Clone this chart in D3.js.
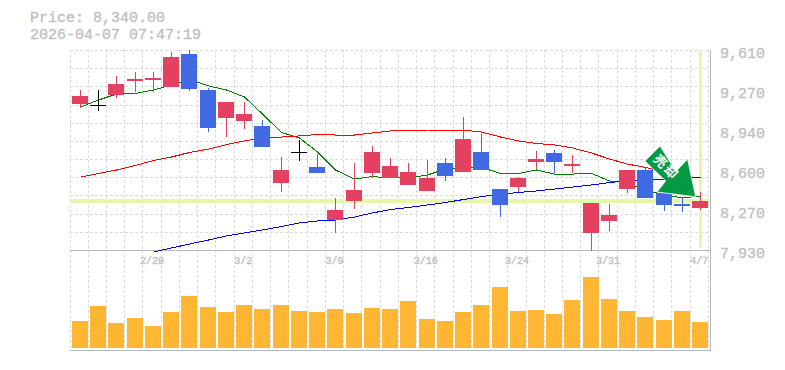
<!DOCTYPE html>
<html lang="ja">
<head>
<meta charset="utf-8">
<title>chart</title>
<script src="https://cdn.jsdelivr.net/npm/d3@7/dist/d3.min.js"></script>
<style>
  html, body { margin: 0; padding: 0; background: #fff; overflow: hidden; }
  svg { display: block; }
  text { font-family: "Liberation Mono", monospace; fill: #c0c0c0; stroke: #c0c0c0; stroke-width: 0.35px; }
</style>
</head>
<body>
<svg width="785" height="370"></svg>
<script>
const titleLines = ["Price: 8,340.00", "2026-04-07 07:47:19"];
const lastPrice = 8340;

const opens  = [9156,9146,9232,9350,9358,9299,9576,9274,9039,9014,8972,8493,8751,8627,8182,8342,8577,8535,8476,8426,8661,8585,8753,8442,8459,8669,8745,8636,8073,8174,8442,8602,8409,8316,8283];
const highs  = [9274,9274,9392,9425,9425,9593,9610,9291,9173,9173,9022,8711,8854,8736,8367,8661,8804,8703,8661,8686,8703,9047,8904,8442,8543,8762,8770,8728,8325,8316,8602,8627,8434,8375,8417];
const lows   = [9123,9100,9207,9257,9260,9299,9266,8921,8879,8946,8795,8417,8680,8577,8073,8274,8535,8535,8476,8426,8510,8585,8602,8207,8417,8602,8577,8577,7922,8090,8409,8367,8258,8249,8266];
const closes = [9224,9146,9324,9366,9375,9551,9282,8955,9173,9072,8795,8602,8751,8577,8266,8434,8753,8636,8585,8535,8552,8862,8602,8308,8535,8694,8669,8652,8325,8224,8602,8367,8308,8300,8340];

const maShort = [9131,9190,9240,9245,9274,9316,9362,9308,9274,9215,9072,8917,8871,8753,8602,8526,8547,8535,8535,8560,8610,8627,8623,8573,8573,8602,8568,8568,8573,8510,8493,8434,8392,8367,8384];
const maMid   = [8543,8573,8602,8640,8682,8711,8749,8778,8816,8846,8871,8879,8888,8900,8896,8896,8913,8930,8934,8938,8938,8938,8921,8879,8846,8825,8812,8787,8745,8694,8652,8623,8585,8552,8535];
const maLong  = [null,null,null,null,7913,7947,7980,8014,8048,8073,8098,8127,8157,8174,8182,8207,8241,8270,8287,8308,8329,8354,8379,8400,8413,8426,8442,8459,8476,8497,8510,8518,8522,8531,8539];

const volumes = [27,42,25,30,22,36,52,41,36,43,39,43,37,36,39,35,40,39,47,29,27,36,43,61,37,38,34,48,71,49,37,31,28,37,26];

const priceTicks = [9610,9274,8938,8602,8266,7930];
const priceLabels = ["9,610","9,270","8,940","8,600","8,270","7,930"];
const dateTicks = [4,9,14,19,24,29,34];
const dateLabels = ["2/20","3/2","3/9","3/16","3/24","3/31","4/7"];
const signalText = "売却";

const svg = d3.select("svg");
const idx = d3.range(opens.length);

const x = d3.scaleBand().domain(idx).range([71, 71 + 18.24 * 35]);
const bodyLeft = i => Math.round(x(i) + 1);
const mid = i => bodyLeft(i) + 8.5;
const yPrice = d3.scaleLinear().domain([7930, 9610]).range([250, 50]);
const yVol = d3.scaleLinear().domain([0, d3.max(volumes)]).range([348, 277]);
const gridCols = d3.scaleLinear().domain([0, 35]).range([70, 70 + 18.24 * 35]);
const gridRows = d3.scaleLinear().domain([0, 11]).range([50, 250]);

// grid
const grid = svg.append("g").attr("stroke", "#dcdcdc").attr("stroke-dasharray", "3,2").attr("shape-rendering", "crispEdges");
grid.selectAll(".v").data(d3.range(36)).enter().append("line")
    .attr("x1", d => Math.floor(gridCols(d)) + 0.5).attr("x2", d => Math.floor(gridCols(d)) + 0.5)
    .attr("y1", 50).attr("y2", 350);
grid.selectAll(".h").data(d3.range(12)).enter().append("line")
    .attr("x1", 70).attr("x2", 710)
    .attr("y1", d => Math.round(gridRows(d)) + 0.5).attr("y2", d => Math.round(gridRows(d)) + 0.5);

// current price / current day highlight
svg.append("rect").attr("x", 70).attr("width", 640).attr("y", Math.round(yPrice(lastPrice)) - 2).attr("height", 4).attr("fill", "#e6f6ab");
svg.append("rect").attr("x", mid(34) - 1.5).attr("width", 3).attr("y", 50).attr("height", 198).attr("fill", "#e6f6ab");

// frame
const frame = svg.append("g").attr("stroke", "#bbb").attr("shape-rendering", "crispEdges");
frame.append("line").attr("x1", 70).attr("x2", 711).attr("y1", 250.5).attr("y2", 250.5);
frame.append("line").attr("x1", 70).attr("x2", 711).attr("y1", 350.5).attr("y2", 350.5);
frame.append("line").attr("x1", 710.5).attr("x2", 710.5).attr("y1", 50).attr("y2", 351);

// moving averages
const maLine = d3.line().defined(d => d !== null).x((d, i) => mid(i)).y(d => yPrice(d));
[[maShort, "#008000"], [maMid, "#ff0000"], [maLong, "#0000ff"]].forEach(function (m) {
    svg.append("path").attr("d", maLine(m[0])).attr("fill", "none").attr("stroke", m[1]).attr("stroke-width", 1).attr("shape-rendering", "crispEdges");
});

// candles
const candleColor = i => closes[i] > opens[i] ? "#e3415f" : closes[i] < opens[i] ? "#4169e1" : "#000";
const candles = svg.append("g").attr("shape-rendering", "crispEdges");
candles.selectAll("line.wick").data(idx).enter().append("line").attr("class", "wick")
    .attr("x1", mid).attr("x2", mid)
    .attr("y1", i => yPrice(highs[i])).attr("y2", i => yPrice(lows[i]))
    .attr("stroke", candleColor);
candles.selectAll("rect").data(idx.filter(i => closes[i] !== opens[i])).enter().append("rect")
    .attr("x", bodyLeft).attr("width", 16)
    .attr("y", i => Math.round(yPrice(Math.max(opens[i], closes[i]))))
    .attr("height", i => Math.round(yPrice(Math.min(opens[i], closes[i]))) - Math.round(yPrice(Math.max(opens[i], closes[i]))))
    .attr("fill", candleColor);
candles.selectAll("line.doji").data(idx.filter(i => closes[i] === opens[i])).enter().append("line").attr("class", "doji")
    .attr("x1", bodyLeft).attr("x2", i => bodyLeft(i) + 16)
    .attr("y1", i => Math.round(yPrice(closes[i])) + 0.5).attr("y2", i => Math.round(yPrice(closes[i])) + 0.5)
    .attr("stroke", "#000");

// volume
svg.append("g").selectAll("rect").data(idx).enter().append("rect")
    .attr("x", bodyLeft).attr("width", 16)
    .attr("y", i => Math.round(yVol(volumes[i])))
    .attr("height", i => 348 - Math.round(yVol(volumes[i])))
    .attr("fill", "#ffb733");

// axes
const yAxis = d3.axisRight(yPrice).tickValues(priceTicks).tickSize(0).tickPadding(0)
    .tickFormat((d, i) => priceLabels[i]);
const gy = svg.append("g").attr("transform", "translate(720,0)").call(yAxis);
gy.select(".domain").remove();
gy.selectAll("text").attr("font-size", 15).attr("font-family", "Liberation Mono").attr("dy", "0.5em").attr("fill", "#c0c0c0");

const xAxis = d3.axisBottom(x).tickValues(dateTicks).tickSize(0).tickPadding(0)
    .tickFormat((d, i) => dateLabels[i]);
const gx = svg.append("g").attr("transform", "translate(-1,257)").call(xAxis);
gx.select(".domain").remove();
gx.selectAll("text").attr("font-size", 10).attr("font-family", "Liberation Mono").attr("fill", "#c0c0c0");

// title
svg.selectAll("text.title").data(titleLines).enter().append("text").attr("class", "title")
    .attr("x", 30).attr("y", (d, i) => 22 + i * 17)
    .attr("font-size", 15)
    .text(d => d);

// signal arrow, anchored on the last candles
const ax = d3.scaleLinear().domain([0, 1]).range([mid(31), mid(34)]);
const ay = d3.scaleLinear().domain([0, 1]).range([yPrice(9000), yPrice(8400)]);
const arrowShape = [[0.264,0.328],[-0.01,0.538],[0.367,0.818],[0.209,0.972],[0.913,1.038],[0.764,0.51],[0.555,0.685]];
svg.append("polygon")
    .attr("points", arrowShape.map(p => ax(p[0]) + "," + ay(p[1])).join(" "))
    .attr("fill", "#009944").attr("stroke", "#fff").attr("stroke-width", 0.8);
svg.append("text")
    .attr("transform", "translate(666.5,167) rotate(45)")
    .attr("text-anchor", "middle").attr("dy", "0.38em")
    .attr("font-size", 13).attr("font-weight", "bold").attr("letter-spacing", 2)
    .style("font-family", '"Noto Sans CJK JP", sans-serif').style("fill", "#fff").style("stroke", "none")
    .text(signalText);
</script>
</body>
</html>
